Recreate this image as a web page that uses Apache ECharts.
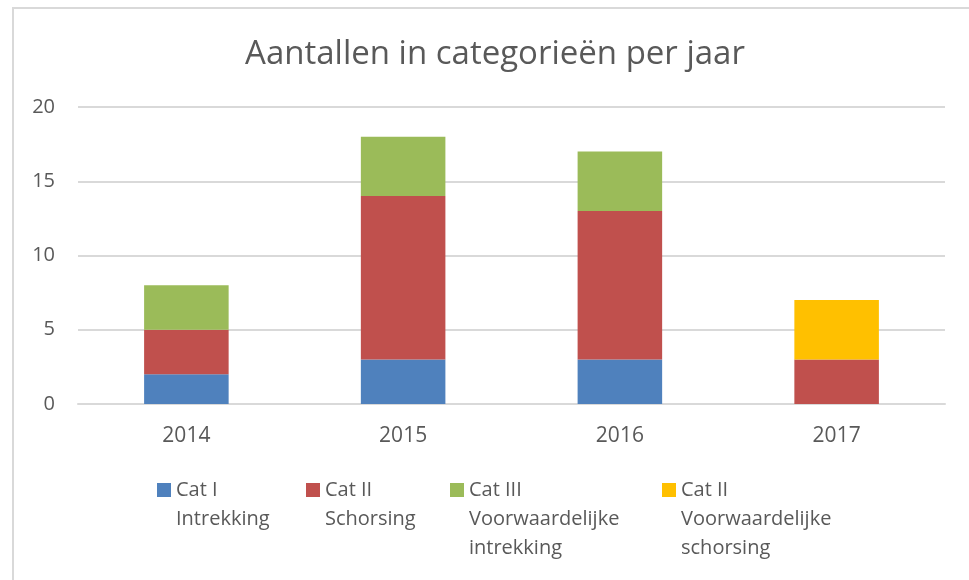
<!DOCTYPE html>
<html><head><meta charset="utf-8">
<script src="https://cdn.jsdelivr.net/npm/echarts@6/dist/echarts.min.js"></script>
<style>html,body{margin:0;padding:0;background:#fff}#c{width:969px;height:580px}</style>
</head><body><div id="c"></div>
<script>
const categories = ['2014', '2015', '2016', '2017'];
const catIIntrekking = [2, 3, 3, 0];
const catIISchorsing = [3, 11, 10, 3];
const catIIIVoorwIntrekking = [3, 4, 4, 0];
const catIIVoorwSchorsing = [0, 0, 0, 4];
const seriesNames = ['Cat I\nIntrekking', 'Cat II\nSchorsing', 'Cat III\nVoorwaardelijke\nintrekking', 'Cat II\nVoorwaardelijke\nschorsing'];
const seriesData = [catIIntrekking, catIISchorsing, catIIIVoorwIntrekking, catIIVoorwSchorsing];
const colors = ['#4F81BD', '#C0504D', '#9BBB59', '#FFC000'];
const yTicks = [0, 5, 10, 15, 20];

const FONT = 'Open Sans';
const LH = 29, FS = 20, ICON = 14, ICON_TOP = 483;
const legendLefts = [157, 306, 450, 662];

const legends = seriesNames.map((n, i) => {
  const lines = n.split('\n').length;
  const total = 2 * lines - 1;
  return {
    left: legendLefts[i],
    top: ICON_TOP + ICON / 2 - total * LH / 2,
    itemWidth: ICON, itemHeight: ICON, itemGap: 0,
    icon: 'rect', selectedMode: false, padding: 0,
    data: [{ name: n }],
    formatter: name => '\n'.repeat(lines - 1) + name,
    textStyle: { fontFamily: FONT, fontSize: FS, color: '#595959', lineHeight: LH }
  };
});

const chart = echarts.init(document.getElementById('c'));
chart.setOption({
  animation: false,
  color: colors,
  title: {
    text: 'Aantallen in categorieën per jaar',
    left: 495, textAlign: 'center', top: 38, padding: 0,
    textStyle: { fontFamily: FONT, fontSize: 33, fontWeight: 'normal', color: '#595959' }
  },
  graphic: [{ type: 'rect', shape: { x: 13, y: 8, width: 1000, height: 600 }, style: { fill: 'none', stroke: '#D9D9D9', lineWidth: 2 }, silent: true }],
  legend: legends,
  grid: { left: 78, right: 24, top: 107, bottom: 176, containLabel: false },
  xAxis: {
    type: 'category', data: categories,
    axisLine: { show: true, lineStyle: { color: '#D9D9D9', width: 2 } },
    axisTick: { show: false },
    axisLabel: { fontFamily: FONT, fontSize: 21, color: '#595959', margin: 22 }
  },
  yAxis: {
    type: 'value', min: yTicks[0], max: yTicks[yTicks.length - 1], interval: 5,
    axisLine: { show: false }, axisTick: { show: false },
    splitLine: { lineStyle: { color: '#D9D9D9', width: 2 } },
    axisLabel: { fontFamily: FONT, fontSize: 20, color: '#595959', margin: 23 }
  },
  series: seriesNames.map((n, i) => ({
    name: n, type: 'bar', stack: 'total', barWidth: '39%',
    data: seriesData[i],
    itemStyle: { color: colors[i] }
  }))
});
</script></body></html>
